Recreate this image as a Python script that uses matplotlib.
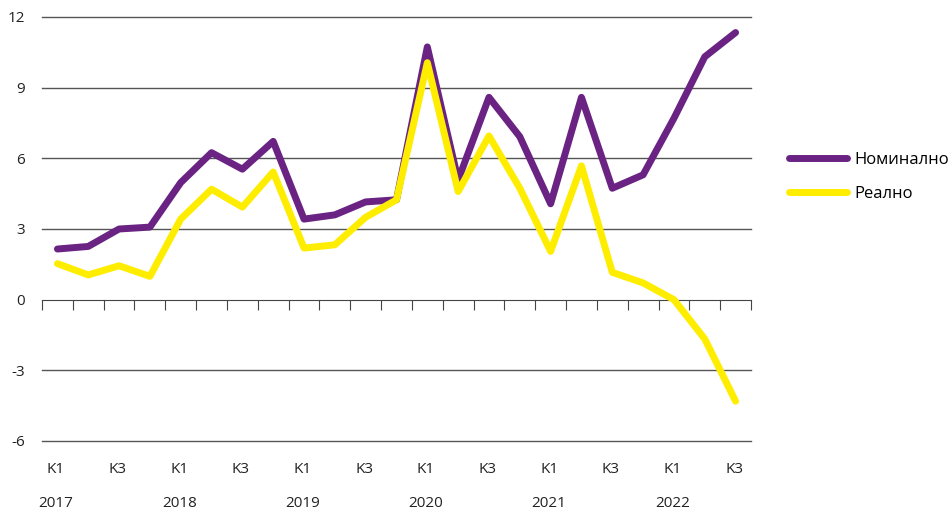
import matplotlib.pyplot as plt
from matplotlib.transforms import blended_transform_factory

plt.rcParams['font.family'] = ['Open Sans', 'DejaVu Sans']
plt.rcParams['axes.unicode_minus'] = False

# Квартали 2017 K1 - 2022 K3
godini = ['2017', '2018', '2019', '2020', '2021', '2022']
kvartali = ['K1', 'K2', 'K3', 'K4']
n = 23

nominalno = [2.15, 2.26, 3.0, 3.08, 4.97, 6.24, 5.54, 6.72, 3.42, 3.6, 4.15, 4.24,
             10.73, 5.08, 8.59, 6.92, 4.07, 8.59, 4.73, 5.3, 7.7, 10.31, 11.34]
realno = [1.53, 1.05, 1.44, 0.99, 3.42, 4.69, 3.93, 5.42, 2.19, 2.33, 3.5, 4.24,
          10.06, 4.59, 6.95, 4.73, 2.05, 5.68, 1.16, 0.71, 0.0, -1.67, -4.31]

x = list(range(n))

fig = plt.figure(figsize=(9.53, 5.14), dpi=100)
ax = fig.add_axes([42 / 953, 1 - 441 / 514, (751 - 42) / 953, (441 - 17) / 514])

ax.plot(x, nominalno, color='#6B2383', lw=5, solid_capstyle='round', solid_joinstyle='round', label='Номинално', zorder=3)
ax.plot(x, realno, color='#FFED00', lw=5, solid_capstyle='round', solid_joinstyle='round', label='Реално', zorder=3)

ax.set_xlim(-0.5, n - 0.5)
ax.set_ylim(-6, 12)
ax.set_yticks([-6, -3, 0, 3, 6, 9, 12])
for v in [-6, -3, 3, 6, 9, 12]:
    ax.axhline(v, color='#555555', lw=1, zorder=1, clip_on=False)

for s in ['top', 'right', 'left']:
    ax.spines[s].set_visible(False)
ax.spines['bottom'].set_position(('data', 0))
ax.spines['bottom'].set_color('#444444')

ax.set_xticks([i - 0.5 for i in range(n + 1)])
ax.set_xticklabels([])
ax.tick_params(axis='x', direction='out', length=7, color='#444444')
ax.tick_params(axis='y', length=0, pad=12, labelsize=11, labelcolor='#222222')

tr = blended_transform_factory(ax.transData, ax.transAxes)
for i in range(n):
    q = kvartali[i % 4]
    if q in ('K1', 'K3'):
        ax.text(i - 0.05, -0.068, q, transform=tr, ha='center', va='center', fontsize=11, color='#222222')
    if q == 'K1':
        ax.text(i - 0.05, -0.148, godini[i // 4], transform=tr, ha='center', va='center', fontsize=11, color='#222222')

ax.legend(loc='center left', bbox_to_anchor=(774 / 953, 1 - 177 / 514), bbox_transform=fig.transFigure,
          frameon=False, fontsize=12, handlelength=3.5, labelspacing=1.1, handletextpad=0.4)

fig.savefig('out.png', dpi=100)
